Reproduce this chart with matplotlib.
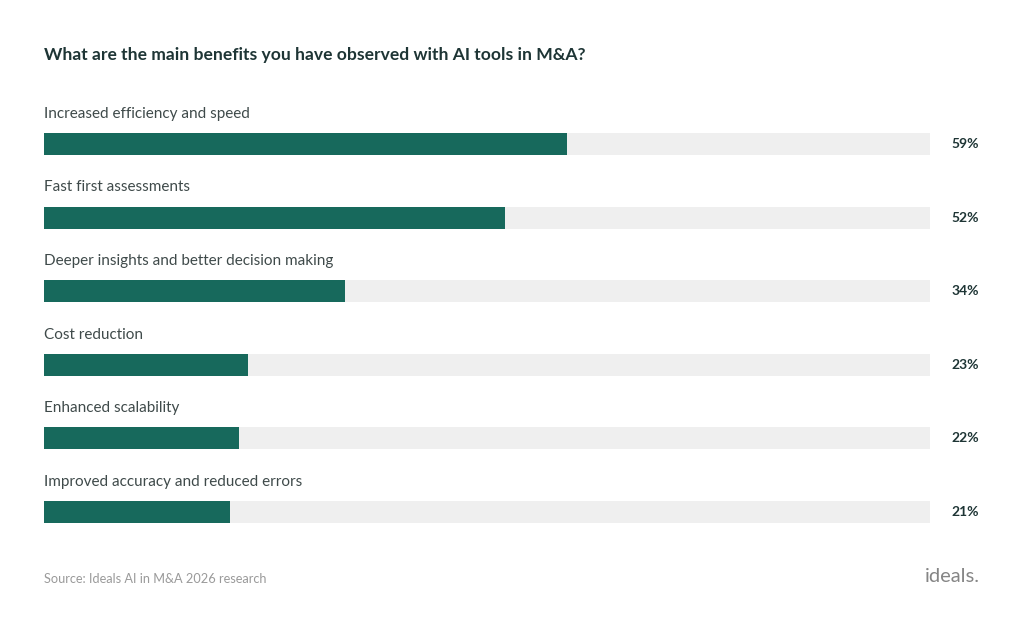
import matplotlib
matplotlib.use("Agg")
import matplotlib.pyplot as plt

categories = [
    "Increased efficiency and speed",
    "Fast first assessments",
    "Deeper insights and better decision making",
    "Cost reduction",
    "Enhanced scalability",
    "Improved accuracy and reduced errors",
]
values = [59, 52, 34, 23, 22, 21]
value_labels = ["59%", "52%", "34%", "23%", "22%", "21%"]

title = "What are the main benefits you have observed with AI tools in M&A?"
source = "Source: Ideals AI in M&A 2026 research"
logo = "ideals."

plt.rcParams['font.family'] = ['Lato', 'DejaVu Sans']

BAR = "#17695c"
TRACK = "#efefef"
DARK = "#1e3535"
LABEL = "#3f4a4a"

fig = plt.figure(figsize=(10.24, 6.26), dpi=100)
fig.patch.set_facecolor("white")
W, H = 1024, 626
row = 73.6
top_px = 144 - row / 2
bot_px = 144 + row * 5.5
ax = fig.add_axes([44 / W, 1 - bot_px / H, 886 / W, (bot_px - top_px) / H])
ax.set_xlim(0, 100)
ax.set_ylim(len(categories) - 0.5, -0.5)
ax.axis("off")

ypos = list(range(len(categories)))
ax.barh(ypos, [100] * len(categories), height=0.3, color=TRACK, left=0)
ax.barh(ypos, values, height=0.3, color=BAR, left=0)

for y, cat, lab in zip(ypos, categories, value_labels):
    ax.text(0, y - 0.41, cat, ha="left", va="center", fontsize=11, color=LABEL)
    ax.text(102.4, y, lab, ha="left", va="center", fontsize=10, fontweight="bold", color=DARK)

fig.text(44 / W, 1 - 55 / H, title, ha="left", va="center", fontsize=12.6,
         fontweight="bold", color=DARK)
fig.text(44 / W, 1 - 579 / H, source, ha="left", va="center", fontsize=9.2, color="#9a9a9a")
fig.text(980 / W, 1 - 576 / H, logo, ha="right", va="center", fontsize=14.5, color="#858585")

fig.savefig("out.png", dpi=100, facecolor="white")
